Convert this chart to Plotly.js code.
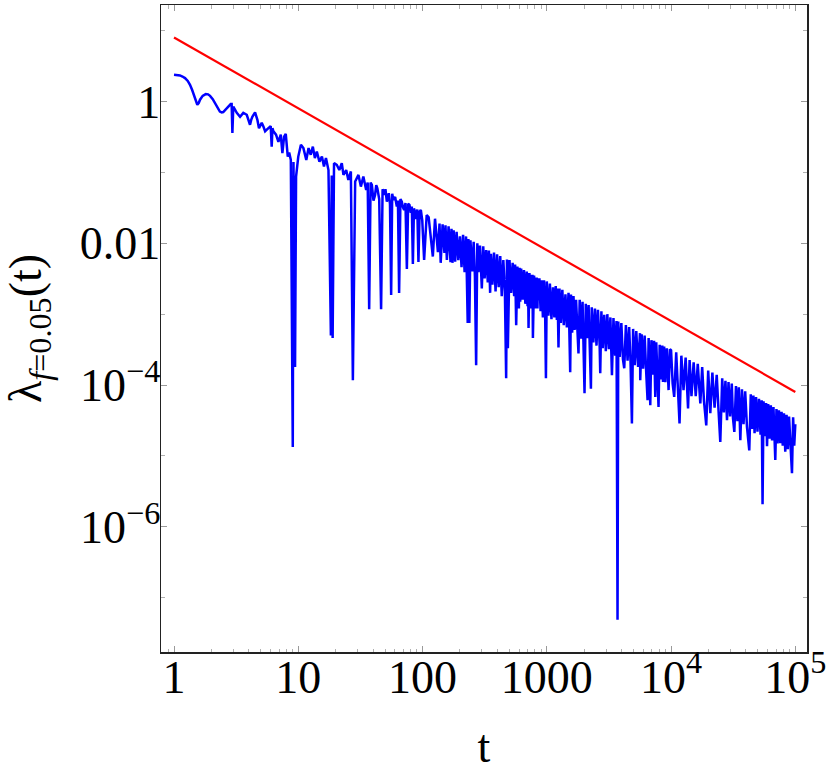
<!DOCTYPE html>
<html>
<head>
<meta charset="utf-8">
<script src="https://cdn.plot.ly/plotly-3.0.1.min.js"></script>
<style>html,body{margin:0;padding:0;background:#fff;}#chart{width:830px;height:776px;}</style>
</head>
<body>
<div id="chart"></div>
<script>
// ---- data ----
// red reference line
const redT = [1, 100000];
const redLam = [8, 8e-5];

// blue series, split by decade of t
const t0 = [1, 1.06, 1.117, 1.17, 1.226, 1.29, 1.345, 1.40, 1.46, 1.50, 1.54, 1.58, 1.62, 1.70, 1.80, 1.88, 1.95, 2.05, 2.14, 2.24, 2.34, 2.42, 2.49, 2.62, 2.74, 2.86, 2.91, 2.95, 3.0, 3.1, 3.2, 3.4, 3.61, 3.85, 4.0, 4.09, 4.18, 4.27, 4.49, 4.69, 4.83, 5.08, 5.25, 5.41, 5.75, 6.0, 6.11, 6.2, 6.31, 6.62, 6.92, 7.23, 7.45, 7.69, 7.93, 8.23, 8.45, 8.71, 9.03, 9.15, 9.42, 9.6];
const lam0 = [2.38, 2.37, 2.33, 2.25, 2.14, 1.95, 1.72, 1.45, 1.18, 1.0, 0.90, 0.95, 1.06, 1.20, 1.27, 1.26, 1.20, 1.08, 0.95, 0.82, 0.72, 0.70, 0.71, 0.78, 0.85, 0.92, 0.92, 0.36, 0.85, 0.75, 0.69, 0.61, 0.69, 0.65, 0.55, 0.47, 0.55, 0.61, 0.70, 0.55, 0.42, 0.50, 0.44, 0.38, 0.42, 0.45, 0.23, 0.42, 0.38, 0.34, 0.27, 0.34, 0.187, 0.32, 0.35, 0.167, 0.19, 0.15, 1.34e-5, 0.14, 1.8e-4, 0.087];

const t1 = [10.0, 10.5, 11.0, 11.6, 12.1, 12.6, 13.1, 13.6, 14.1, 14.8, 15.5, 16.1, 16.7, 17.5, 18.3, 18.6, 18.9, 19.4, 20.4, 21.4, 22.4, 23.1, 24.3, 25.3, 26.5, 27.5, 28.7, 30.5, 31.9, 33.4, 35.2, 36.2, 37.2, 38.2, 39.1, 40.3, 41.5, 42.4, 43.3, 44.8, 46.4, 47.7, 49.1, 50.3, 51.6, 52.5, 53.5, 54.7, 55.9, 57.0, 58.3, 60.2, 62.1, 63.4, 64.8, 66.4, 68.1, 69.6, 71.1, 72.9, 74.8, 76.6, 78.5, 80.5, 82.0, 83.6, 85.3, 87.1, 89.0, 90.8, 92.7, 94.8, 96.9, 99.5];
const lam1 = [0.167, 0.245, 0.22, 0.150, 0.22, 0.177, 0.231, 0.159, 0.197, 0.142, 0.167, 0.121, 0.159, 0.108, 5.0e-4, 0.09, 4.6e-4, 0.135, 0.128, 0.108, 0.135, 0.0922, 0.108, 0.0783, 0.103, 1.17e-4, 0.0742, 0.0922, 0.063, 0.0873, 0.0566, 0.072, 1.17e-3, 0.072, 0.0666, 0.040, 0.0481, 0.066, 0.0598, 0.042, 1.17e-3, 0.058, 0.0481, 0.058, 0.0387, 0.047, 0.0508, 0.036, 1.86e-3, 0.050, 0.0409, 0.045, 0.0329, 0.040, 1.99e-3, 0.042, 0.0387, 0.032, 0.0295, 0.037, 4.34e-3, 0.036, 0.0348, 0.027, 0.033, 5.1e-3, 0.031, 0.0279, 0.022, 0.030, 5.44e-3, 0.028, 0.0295, 0.021];

const t2 = [103, 108, 112, 121, 126, 133, 137, 140, 145, 150, 153, 157, 162, 168, 171, 174, 178, 183, 188, 194, 200, 206, 212, 218, 224, 231, 234, 238, 243, 251, 258, 264, 270, 276, 282, 290, 300, 308, 316, 325, 335, 342, 350, 355, 365, 376, 387, 398, 410, 422, 434, 447, 460, 471, 478, 486, 501, 516, 531, 546, 556, 567, 580, 596, 604, 611, 622, 640, 655, 672, 690, 700, 706, 713, 725, 740, 750, 760, 767, 773, 790, 810, 828, 841, 849, 857, 872, 891, 910, 930, 950, 970, 984];
const lam2 = [5.81e-3, 0.0251, 0.0232, 6.5e-3, 0.0222, 7.5e-3, 0.019, 5.3e-3, 0.0185, 7.3e-3, 0.018, 5.8e-3, 0.0173, 5.4e-3, 0.016, 5.3e-3, 0.0152, 5.5e-3, 0.0145, 5.8e-3, 0.0125, 4.6e-3, 0.0132, 3.9e-3, 0.0125, 7.5e-4, 0.0115, 7.5e-4, 0.011, 4.0e-3, 0.0105, 3.4e-3, 1.9e-4, 0.010, 3.9e-3, 9.3e-3, 2.3e-3, 9.1e-3, 3.2e-3, 8.0e-3, 2.8e-3, 7.9e-3, 2.0e-3, 7.1e-3, 2.6e-3, 7.4e-3, 2.1e-3, 7.0e-3, 2.4e-3, 6.6e-3, 1.8e-3, 5.8e-3, 2.1e-3, 1.25e-4, 5.9e-3, 3.3e-4, 5.8e-3, 2.0e-3, 5.3e-3, 1.8e-3, 5.0e-3, 7.0e-4, 4.7e-3, 1.2e-3, 4.5e-3, 1.5e-3, 4.4e-3, 1.6e-3, 4.2e-3, 1.4e-3, 4.0e-3, 1.3e-3, 3.8e-3, 6.4e-4, 3.8e-3, 1.2e-3, 3.6e-3, 1.3e-3, 3.6e-3, 4.6e-4, 3.5e-3, 1.2e-3, 3.3e-3, 1.2e-3, 3.2e-3, 1.58e-3, 3.2e-3, 1.1e-3, 3.0e-3, 9.0e-4, 3.0e-3, 1.0e-3, 1.25e-4];

const t3 = [1000, 1030, 1059, 1090, 1122, 1150, 1180, 1205, 1220, 1242, 1265, 1295, 1334, 1370, 1413, 1450, 1496, 1520, 1543, 1565, 1600, 1640, 1680, 1720, 1760, 1799, 1840, 1884, 1940, 1975, 2012, 2060, 2113, 2170, 2220, 2265, 2300, 2371, 2440, 2512, 2580, 2661, 2692, 2750, 2818, 2900, 2985, 3070, 3162, 3250, 3344, 3440, 3548, 3640, 3709, 3760, 3860, 3981, 4100, 4201, 4330, 4467, 4600, 4720, 4842, 4950, 5100, 5250, 5430, 5623, 5649, 5800, 5957, 6130, 6300, 6471, 6600, 6803, 6950, 7150, 7300, 7464, 7600, 7800, 7930, 8100, 8300, 8500, 8610, 8800, 9000, 9250, 9550, 9800];
const lam3 = [2.9e-3, 9.5e-4, 2.7e-3, 8.5e-4, 2.4e-3, 9.0e-4, 2.5e-3, 8.3e-4, 2.3e-3, 3.4e-4, 2.3e-3, 7.5e-4, 2.2e-3, 7.0e-4, 1.9e-3, 6.5e-4, 2.0e-3, 6.0e-4, 1.52e-4, 1.9e-3, 5.5e-4, 1.8e-3, 6.0e-4, 1.6e-3, 5.5e-4, 2.8e-4, 1.6e-3, 4.5e-4, 1.5e-3, 5.0e-4, 7.7e-5, 1.4e-3, 4.6e-4, 1.35e-3, 4.0e-4, 8.9e-5, 1.25e-3, 4.0e-4, 1.2e-3, 3.6e-4, 1.15e-3, 3.8e-4, 1.47e-4, 1.1e-3, 3.3e-4, 9.8e-4, 3.0e-4, 1.0e-3, 3.2e-4, 9.0e-4, 1.38e-4, 8.8e-4, 2.6e-4, 8.0e-4, 4.9e-8, 7.9e-4, 2.5e-4, 7.5e-4, 2.3e-4, 1.73e-4, 7.0e-4, 2.2e-4, 6.6e-4, 2.1e-4, 2.87e-5, 6.2e-4, 1.9e-4, 5.8e-4, 1.8e-4, 5.4e-4, 1.17e-4, 5.2e-4, 1.7e-4, 5.0e-4, 1.6e-4, 6.1e-5, 4.6e-4, 5.2e-5, 4.3e-4, 1.4e-4, 4.2e-4, 6.8e-5, 4.0e-4, 1.3e-4, 4.9e-5, 3.7e-4, 1.2e-4, 3.6e-4, 1.11e-4, 3.5e-4, 1.1e-4, 3.3e-4, 8.5e-5, 3.2e-4];

const t4 = [10000, 10300, 10600, 11000, 11300, 11700, 12100, 12600, 13100, 13700, 14100, 14600, 15200, 15800, 16400, 17200, 17800, 18400, 19200, 19900, 20700, 21500, 22400, 23300, 24100, 24900, 25800, 26600, 27400, 28200, 29000, 29850, 30800, 31500, 32300, 33300, 34200, 35100, 36100, 37200, 38300, 39500, 40800, 42600, 43800, 45000, 46000, 47000, 48300, 49600, 51000, 52500, 53600, 54500, 55500, 57000, 58200, 59200, 60500, 62000, 63500, 65000, 66700, 69000, 70500, 72000, 73800, 75700, 77500, 79200, 81000, 83000, 85000, 87000, 89000, 91500, 94000, 96000, 98000, 100000];
const lam4 = [3.1e-4, 1.05e-4, 6.8e-5, 2.9e-4, 9.5e-5, 2.87e-5, 2.6e-4, 8.5e-5, 2.45e-4, 4.67e-5, 2.25e-4, 7.0e-5, 2.1e-4, 7.0e-5, 2.0e-4, 5.5e-5, 1.8e-4, 6.0e-5, 2.7e-5, 1.6e-4, 4.0e-5, 1.5e-4, 4.8e-5, 1.4e-4, 4.4e-5, 1.58e-5, 1.25e-4, 4.1e-5, 1.15e-4, 3.2e-5, 1.1e-4, 3.6e-5, 1.05e-4, 3.4e-5, 2.18e-5, 9.7e-5, 3.1e-5, 9.3e-5, 1.67e-5, 8.7e-5, 2.8e-5, 8.2e-5, 2.6e-5, 1.2e-5, 7.4e-5, 2.4e-5, 7.1e-5, 2.1e-5, 6.8e-5, 2.2e-5, 6.4e-5, 2.0e-5, 6.1e-5, 2.08e-6, 5.9e-5, 1.9e-5, 5.6e-5, 1.37e-5, 5.4e-5, 1.75e-5, 5.2e-5, 1.65e-5, 4.9e-5, 8.8e-6, 4.6e-5, 1.5e-5, 4.4e-5, 1.51e-5, 4.2e-5, 1.4e-5, 4.0e-5, 1.15e-5, 3.8e-5, 1.25e-5, 3.6e-5, 1.3e-5, 5.7e-6, 3.5e-5, 1.4e-5, 2.8e-5];

// axis ticks
const xTickVals = [1, 10, 100, 1000, 10000, 100000];
const xTickText = ['1', '10', '100', '1000', '10<sup>4</sup>', '10<sup>5</sup>'];
const yTickVals = [1, 0.01, 1e-4, 1e-6];
const yTickText = ['1', '0.01', '10<sup>\u22124</sup>', '10<sup>\u22126</sup>'];
const yMinorVals = [10, 0.1, 1e-3, 1e-5, 1e-7];

// ---- build traces ----
const blueT = [].concat(t0, t1, t2, t3, t4);
const blueLam = [].concat(lam0, lam1, lam2, lam3, lam4);

const xMinorVals = [0.9];
for (let d = 1; d <= 10000; d *= 10) {
  for (let m = 2; m <= 9; m++) xMinorVals.push(m * d);
}

const serif = 'Liberation Serif, Times New Roman, serif';

const traces = [
  {x: blueT, y: blueLam, type: 'scatter', mode: 'lines',
   line: {color: '#0000ff', width: 2.5}, hoverinfo: 'skip'},
  {x: redT, y: redLam, type: 'scatter', mode: 'lines',
   line: {color: '#ff0000', width: 2.2}, hoverinfo: 'skip'}
];

const layout = {
  width: 830, height: 776,
  margin: {l: 161, r: 23, t: 5, b: 124, pad: 0},
  paper_bgcolor: '#ffffff', plot_bgcolor: '#ffffff',
  showlegend: false,
  font: {family: serif, size: 46, color: '#000'},
  xaxis: {
    type: 'log', range: [-0.1047, 5.094], autorange: false,
    showline: true, mirror: 'ticks', linecolor: '#222', linewidth: 1.5,
    ticks: 'inside', ticklen: 6, tickwidth: 1, tickcolor: '#9a9a9a',
    tickmode: 'array', tickvals: xTickVals, ticktext: xTickText,
    tickfont: {family: serif, size: 46, color: '#000'},
    ticklabelstandoff: -16,
    showgrid: false, zeroline: false,
    minor: {tickmode: 'array', tickvals: xMinorVals, ticks: 'inside', ticklen: 3.5, tickwidth: 1, tickcolor: '#b0b0b0', showgrid: false},
    title: {text: 't', font: {family: serif, size: 46, color: '#000'}, standoff: 28}
  },
  yaxis: {
    type: 'log', range: [-7.765, 1.361], autorange: false,
    showline: true, mirror: 'ticks', linecolor: '#222', linewidth: 1.5,
    ticks: 'inside', ticklen: 6, tickwidth: 1, tickcolor: '#9a9a9a',
    tickmode: 'array', tickvals: yTickVals, ticktext: yTickText,
    tickfont: {family: serif, size: 46, color: '#000'},
    ticklabelstandoff: -10,
    showgrid: false, zeroline: false,
    minor: {tickmode: 'array', tickvals: yMinorVals, ticks: 'inside', ticklen: 4, tickwidth: 1, tickcolor: '#b0b0b0', showgrid: false},
    title: {text: '\u03bb<sub><i>f</i>=0.05</sub>(t)', font: {family: serif, size: 46, color: '#000'}, standoff: 28}
  }
};

Plotly.newPlot('chart', traces, layout, {displayModeBar: false, staticPlot: true});
</script>
</body>
</html>
